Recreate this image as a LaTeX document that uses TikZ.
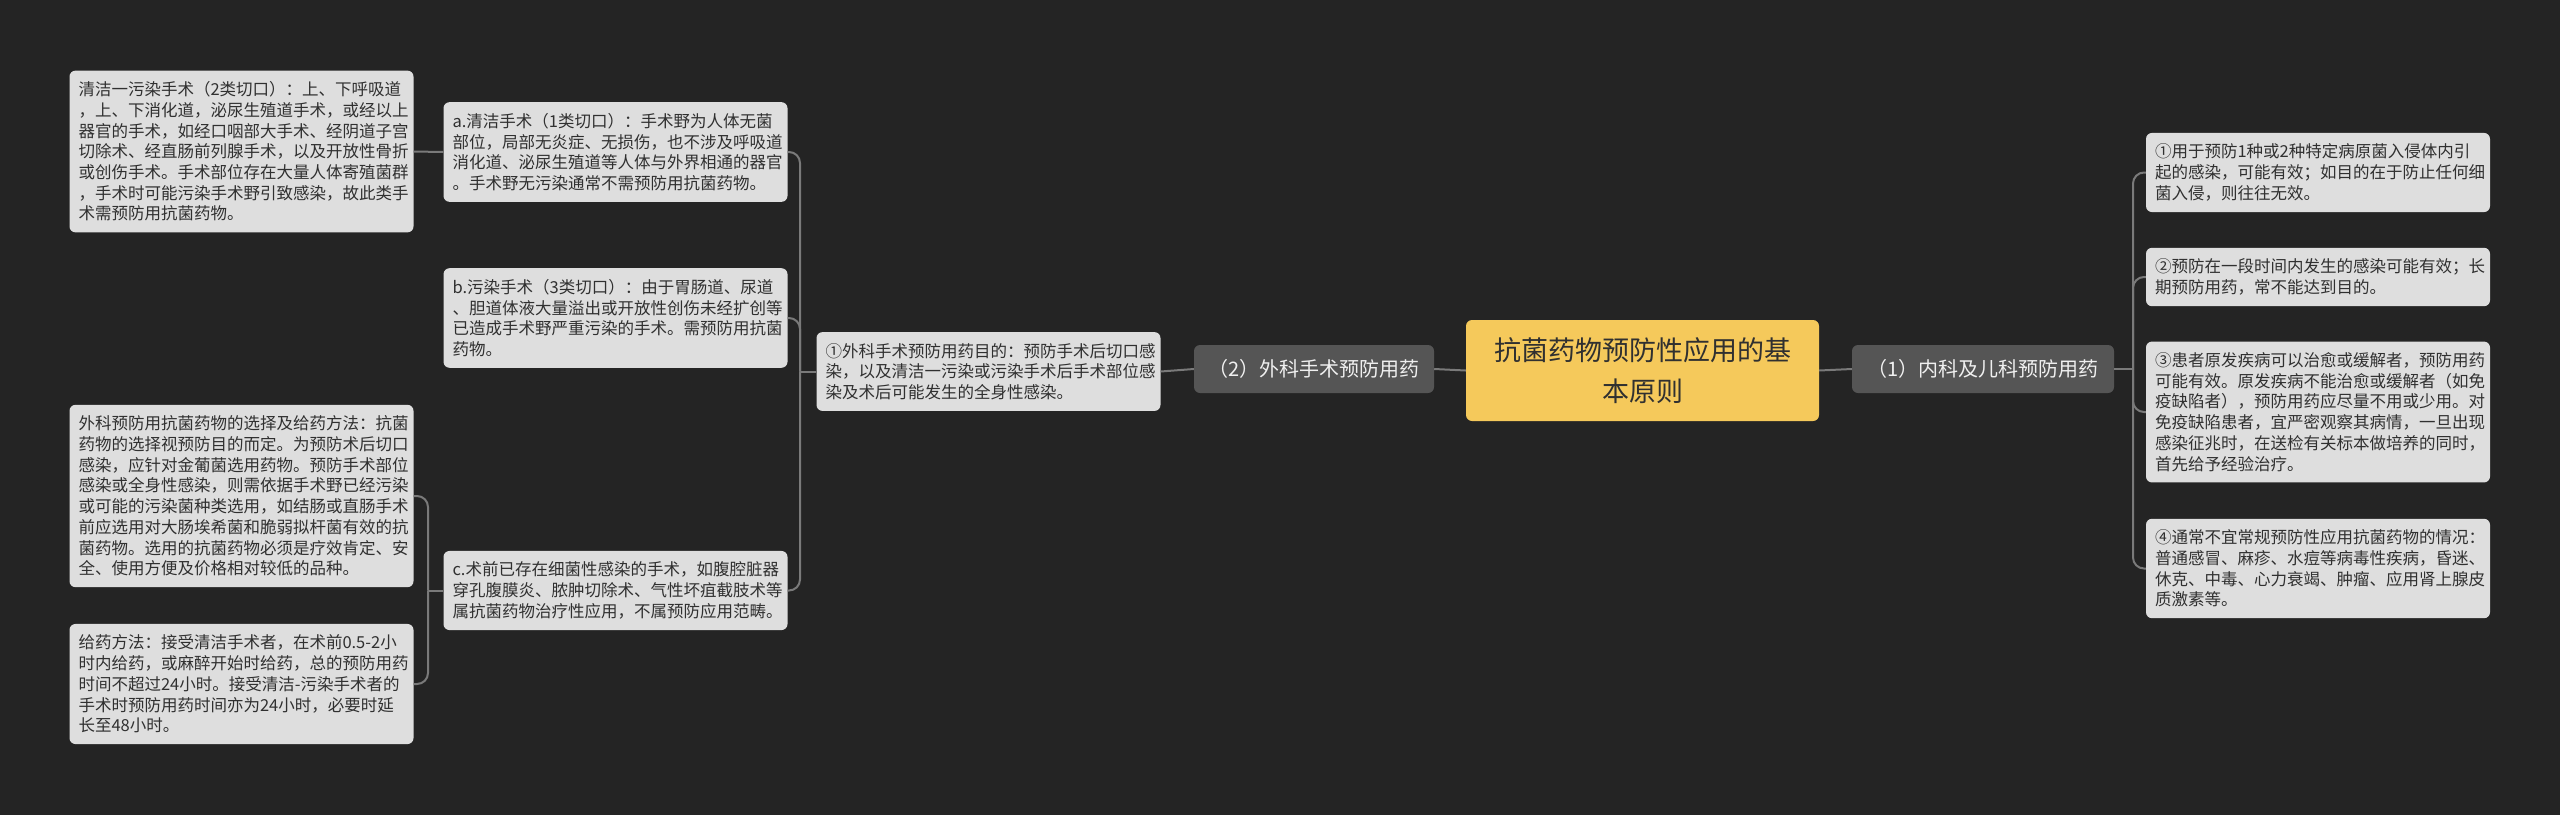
\documentclass[tikz,border=0pt]{standalone}
\usepackage{fontspec}
\setmainfont{Noto Sans CJK SC}
\definecolor{bgc}{HTML}{242424}
\definecolor{leafc}{HTML}{DEDEDE}
\definecolor{leaftxt}{HTML}{303030}
\definecolor{midc}{HTML}{555555}
\definecolor{rootc}{HTML}{F5C95B}
\definecolor{linec}{HTML}{7A7A7A}
\begin{document}
\begin{tikzpicture}[x=1pt,y=-1pt,
  leaf/.style={fill=leafc, rounded corners=6pt, text=leaftxt, align=left,
    text width=326pt, inner xsep=9pt, inner ysep=11pt,
    font=\fontsize{16.5}{20.7}\selectfont},
  midbox/.style={fill=midc, rounded corners=6pt, text=white!94!black,
    minimum height=48pt, inner sep=0pt, font=\fontsize{20}{24}\selectfont},
  rootbox/.style={fill=rootc, rounded corners=6pt, text=leaftxt, align=center,
    minimum width=353pt, minimum height=101pt, inner sep=0pt,
    font=\fontsize{27}{41}\selectfont},
  conn/.style={draw=linec, line width=2pt, rounded corners=11pt}
]
\fill[bgc] (0,0) rectangle (2560,815);
\useasboundingbox (0,0) rectangle (2560,815);

\node[rootbox] (root) at (1642.5,370.5) {抗菌药物预防性应用的基\\本原则};
\node[midbox, minimum width=262pt] (p1) at (1983,369) {（1）内科及儿科预防用药};
\node[midbox, minimum width=240pt] (p2) at (1314,369) {（2）外科手术预防用药};

\node[leaf] (s1) at (988.5,371.5) {①外科手术预防用药目的：预防手术后切口感\\
染，以及清洁一污染或污染手术后手术部位感\\
染及术后可能发生的全身性感染。};

\node[leaf] (a) at (615.5,152) {a.清洁手术（1类切口）：手术野为人体无菌\\
部位，局部无炎症、无损伤，也不涉及呼吸道\\
消化道、泌尿生殖道等人体与外界相通的器官\\
。手术野无污染通常不需预防用抗菌药物。};

\node[leaf] (b) at (615.5,318) {b.污染手术（3类切口）：由于胃肠道、尿道\\
、胆道体液大量溢出或开放性创伤未经扩创等\\
已造成手术野严重污染的手术。需预防用抗菌\\
药物。};

\node[leaf] (c) at (615.5,590.5) {c.术前已存在细菌性感染的手术，如腹腔脏器\\
穿孔腹膜炎、脓肿切除术、气性坏疽截肢术等\\
属抗菌药物治疗性应用，不属预防应用范畴。};

\node[leaf] (q) at (241.5,151.5) {清洁一污染手术（2类切口）：上、下呼吸道\\
，上、下消化道，泌尿生殖道手术，或经以上\\
器官的手术，如经口咽部大手术、经阴道子宫\\
切除术、经直肠前列腺手术，以及开放性骨折\\
或创伤手术。手术部位存在大量人体寄殖菌群\\
，手术时可能污染手术野引致感染，故此类手\\
术需预防用抗菌药物。};

\node[leaf] (x) at (241.5,496) {外科预防用抗菌药物的选择及给药方法：抗菌\\
药物的选择视预防目的而定。为预防术后切口\\
感染，应针对金葡菌选用药物。预防手术部位\\
感染或全身性感染，则需依据手术野已经污染\\
或可能的污染菌种类选用，如结肠或直肠手术\\
前应选用对大肠埃希菌和脆弱拟杆菌有效的抗\\
菌药物。选用的抗菌药物必须是疗效肯定、安\\
全、使用方便及价格相对较低的品种。};

\node[leaf] (g) at (241.5,684) {给药方法：接受清洁手术者，在术前0.5-2小\\
时内给药，或麻醉开始时给药，总的预防用药\\
时间不超过24小时。接受清洁-污染手术者的\\
手术时预防用药时间亦为24小时，必要时延\\
长至48小时。};

\node[leaf] (r1) at (2318,172.5) {①用于预防1种或2种特定病原菌入侵体内引\\
起的感染，可能有效；如目的在于防止任何细\\
菌入侵，则往往无效。};

\node[leaf] (r2) at (2318,277) {②预防在一段时间内发生的感染可能有效；长\\
期预防用药，常不能达到目的。};

\node[leaf] (r3) at (2318,412) {③患者原发疾病可以治愈或缓解者，预防用药\\
可能有效。原发疾病不能治愈或缓解者（如免\\
疫缺陷者），预防用药应尽量不用或少用。对\\
免疫缺陷患者，宜严密观察其病情，一旦出现\\
感染征兆时，在送检有关标本做培养的同时，\\
首先给予经验治疗。};

\node[leaf] (r4) at (2318,568.5) {④通常不宜常规预防性应用抗菌药物的情况：\\
普通感冒、麻疹、水痘等病毒性疾病，昏迷、\\
休克、中毒、心力衰竭、肿瘤、应用肾上腺皮\\
质激素等。};

% junction coordinates
\coordinate (jr) at (2133,369);
\coordinate (jm) at (800,371.5);
\coordinate (jc) at (428,590.5);

\begin{scope}[on background layer/.style={}]
\draw[conn] (root.east) -- (p1.west);
\draw[conn] (root.west) -- (p2.east);
\draw[conn] (p2.west) -- (s1.east);
\draw[conn] (p1.east) -- (jr);
\draw[conn] (jr) |- (r1.west);
\draw[conn] (jr) |- (r2.west);
\draw[conn] (jr) |- (r3.west);
\draw[conn] (jr) |- (r4.west);
\draw[conn] (s1.west) -- (jm);
\draw[conn] (jm) |- (a.east);
\draw[conn] (jm) |- (b.east);
\draw[conn] (jm) |- (c.east);
\draw[conn] (a.west) -- (q.east);
\draw[conn] (c.west) -- (jc);
\draw[conn] (jc) |- (x.east);
\draw[conn] (jc) |- (g.east);
\end{scope}
\end{tikzpicture}
\end{document}
